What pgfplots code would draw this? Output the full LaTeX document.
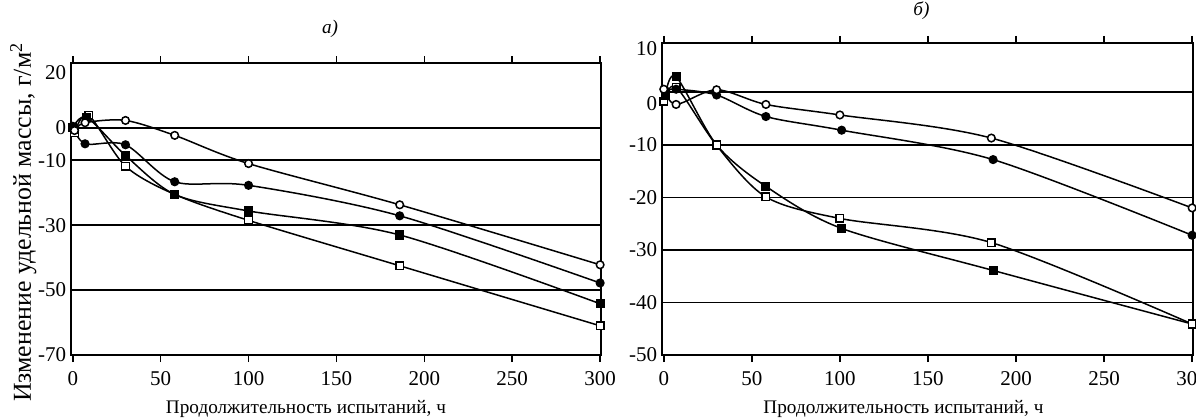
\documentclass[border=0pt]{standalone}
\usepackage{fontspec}
\setmainfont{Liberation Serif}
\usepackage{pgfplots}
\pgfplotsset{compat=1.18}
\begin{document}
\fontsize{9.6pt}{11pt}\selectfont
\begin{tikzpicture}
\path[use as bounding box] (0,0) rectangle (598pt,209.5pt);
\pgfplotsset{
  base/.style={
    scale only axis, anchor=south west, clip=false,
    xmin=-1, xmax=300.5,
    xtick={0,50,100,150,200,250,300},
    /pgf/number format/assume math mode=true,
    tick align=outside, major tick length=3.5pt,
    x tick style={black, line width=0.8pt},
    ytick style={draw=none},
    ymajorgrids, grid style={black, line width=0.9pt},
    extra y tick style={grid=none, tick style={draw=none}},
    axis line style={black, line width=1pt},
    tick label style={font=\fontsize{10.5pt}{12pt}\selectfont},
    label style={font=\fontsize{9.6pt}{11pt}\selectfont},
    xlabel={Продолжительность испытаний, ч},
    xticklabel style={yshift=-1.5pt},
    yticklabel style={xshift=4.5pt},
    title style={at={(0.5,1)}, anchor=center, font=\fontsize{9.6pt}{11pt}\selectfont\itshape},
  },
  ser/.style={black, line width=0.75pt, smooth, tension=0.5, mark size=1.9pt,
    mark options={solid, line width=0.7pt}},
}
% ---------- panel a ----------
\begin{axis}[base, at={(35.5pt,32pt)}, width=265pt, height=146pt,
  ymin=-70, ymax=20,
  ytick={-70,-50,-30,-10,0}, yticklabels={-70,-50,-30,-10,0},
  extra y ticks={16.9}, extra y tick labels={20},
  title={а)}, title style={yshift=11pt, xshift=-3pt},
  xlabel style={at={(axis description cs:0.5,0)}, anchor=center, yshift=-27pt, xshift=-15pt},
  ylabel={Изменение удельной массы, г/м\textsuperscript{2}},
  ylabel style={at={(axis description cs:-0.09,0.455)}, anchor=center, font=\fontsize{12.9pt}{14pt}\selectfont},
]
\addplot[ser, mark=square*, mark options={fill=white}] coordinates {
  (1,-1.5) (9,3.9) (30,-11.8) (58,-20.5) (100,-28.5) (186,-42.5) (300,-61)};
\addplot[ser, mark=square*, mark options={fill=black}] coordinates {
  (0,0) (8,3.2) (30,-8.5) (58,-20.5) (100,-25.6) (186,-33) (300,-54.2)};
\addplot[ser, mark=*, mark options={fill=black}] coordinates {
  (0,0.5) (7,-4.9) (30,-5.2) (58,-16.6) (100,-17.7) (186,-27.1) (300,-47.8)};
\addplot[ser, mark=*, mark options={fill=white}] coordinates {
  (1,-0.8) (7,1.6) (30,2.3) (58,-2.3) (100,-11) (186,-23.7) (300,-42.2)};
\end{axis}
% ---------- panel b ----------
\begin{axis}[base, at={(331pt,32pt)}, width=265.5pt, height=156pt,
  ymin=-50, ymax=9.4,
  ytick={-50,-40,-30,-20,-10,0}, yticklabels={-50,-40,-30,-20,-10,{}},
  extra y ticks={8.3,-2.1}, extra y tick labels={10,0},
  title={б)}, title style={yshift=10pt, xshift=-3pt},
  xlabel style={at={(axis description cs:0.5,0)}, anchor=center, yshift=-27pt, xshift=-12pt},
]
\addplot[ser, mark=square*, mark options={fill=white}] coordinates {
  (0,-1.7) (7,1) (30,-10.1) (58,-19.9) (100,-24) (186,-28.6) (300,-44.1)};
\addplot[ser, mark=square*, mark options={fill=black}] coordinates {
  (1,-0.5) (7,3) (30,-10) (58,-17.9) (101,-25.9) (187,-33.9) (300,-44.1)};
\addplot[ser, mark=*, mark options={fill=black}] coordinates {
  (1,0.3) (7,0.6) (30,-0.5) (58,-4.6) (101,-7.2) (187,-12.8) (300,-27.2)};
\addplot[ser, mark=*, mark options={fill=white}] coordinates {
  (0,0.6) (7,-2.3) (30,0.5) (58,-2.3) (100,-4.3) (186,-8.7) (300,-22)};
\addplot[ser, mark=square*, mark options={fill=white}, only marks] coordinates {(30,-10.1) (300,-44.1)};
\end{axis}
\end{tikzpicture}
\end{document}
